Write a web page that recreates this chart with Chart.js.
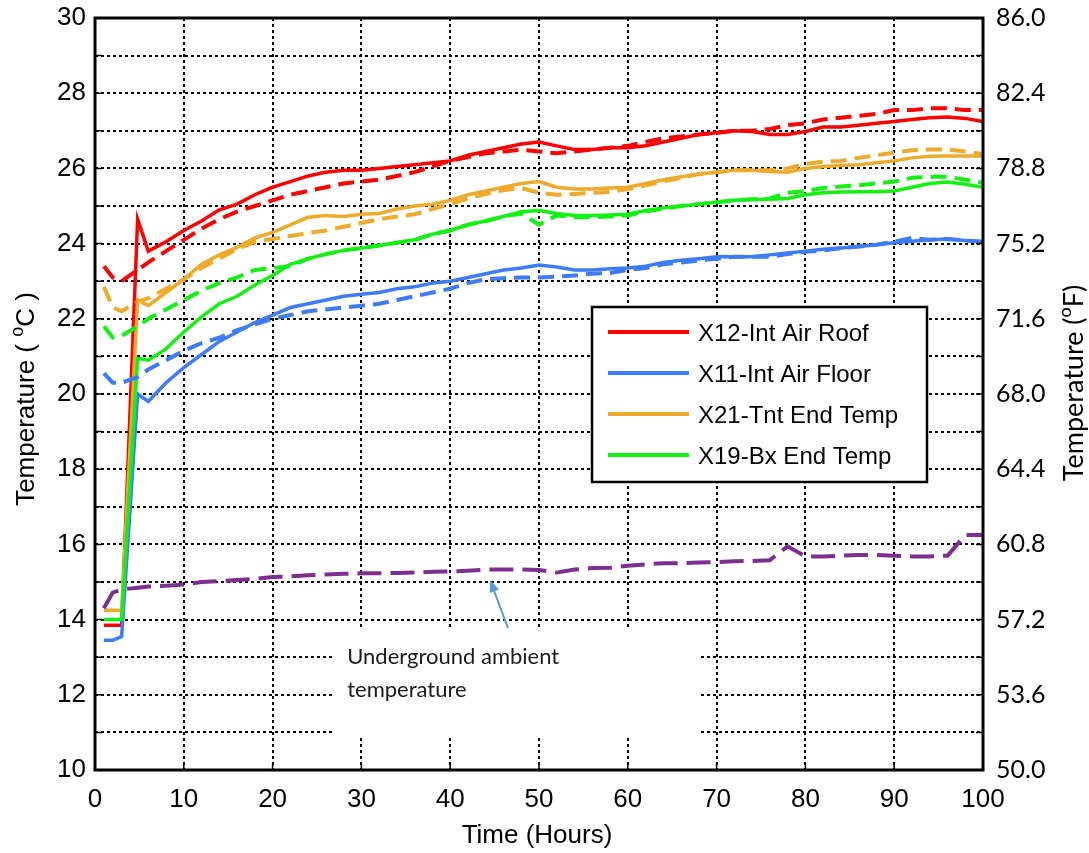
<!DOCTYPE html>
<html>
<head>
<meta charset="utf-8">
<script src="https://cdn.jsdelivr.net/npm/chart.js@4.4.1/dist/chart.umd.min.js"></script>
<style>
  html, body { margin: 0; padding: 0; background: #fff; }
  #wrap { width: 1089px; height: 853px; }
</style>
</head>
<body>
<div id="wrap"><canvas id="temp-chart" width="1089" height="853"></canvas></div>
<script>
// time axis (hours)
const hours = [1, 2, 3, 4.8, 6, 8, 10, 12, 14, 16, 18, 20, 22, 24, 26, 28, 30, 32, 34, 36, 38, 40, 42, 44, 46, 48,
    50, 52, 54, 56, 58, 60, 62, 64, 66, 68, 70, 72, 74, 76, 78, 80, 82, 84, 86, 88, 90, 92, 94, 96, 98, 100];

const x12Roof = [13.85, 13.85, 13.85, 24.65, 23.8, 24.05, 24.35, 24.6, 24.9, 25.05, 25.3, 25.5, 25.65, 25.8, 25.9, 25.95,
    25.95, 26.0, 26.05, 26.1, 26.15, 26.2, 26.35, 26.45, 26.55, 26.65, 26.7, 26.6, 26.5, 26.5, 26.55, 26.55, 26.6, 26.7,
    26.8, 26.9, 26.95, 27.0, 26.98, 26.9, 26.9, 26.98, 27.1, 27.1, 27.15, 27.2, 27.25, 27.3, 27.35, 27.37, 27.33, 27.25];
const x12RoofB = [23.4, 23.1, 23.0, 23.3, 23.5, 23.8, 24.1, 24.4, 24.65, 24.85, 25.0, 25.15, 25.3, 25.4, 25.5, 25.6,
    25.65, 25.7, 25.8, 25.9, 26.05, 26.2, 26.3, 26.4, 26.45, 26.5, 26.45, 26.4, 26.45, 26.5, 26.55, 26.6, 26.7, 26.8,
    26.85, 26.9, 26.95, 27.0, 27.0, 27.05, 27.15, 27.2, 27.3, 27.35, 27.4, 27.45, 27.55, 27.55, 27.6, 27.6, 27.55, 27.55];

const x11Floor = [13.45, 13.45, 13.55, 20.0, 19.8, 20.3, 20.7, 21.05, 21.4, 21.65, 21.9, 22.1, 22.3, 22.4, 22.5, 22.6,
    22.65, 22.7, 22.8, 22.85, 22.95, 23.0, 23.1, 23.2, 23.3, 23.35, 23.43, 23.38, 23.3, 23.3, 23.33, 23.35, 23.4, 23.5,
    23.56, 23.6, 23.65, 23.65, 23.65, 23.7, 23.75, 23.8, 23.85, 23.88, 23.92, 23.97, 24.02, 24.06, 24.1, 24.12, 24.08, 24.05];
const x11FloorB = [20.55, 20.3, 20.3, 20.45, 20.65, 20.9, 21.15, 21.35, 21.5, 21.7, 21.85, 22.0, 22.1, 22.2, 22.25, 22.3,
    22.35, 22.4, 22.5, 22.6, 22.7, 22.8, 22.95, 23.05, 23.08, 23.1, 23.1, 23.12, 23.15, 23.2, 23.22, 23.3, 23.35, 23.45,
    23.5, 23.55, 23.6, 23.65, 23.65, 23.65, 23.72, 23.78, 23.82, 23.88, 23.92, 23.97, 24.05, 24.15, 24.1, 24.12, 24.08, 24.05];

const x21Tnt = [14.25, 14.25, 14.25, 22.5, 22.35, 22.7, 23.05, 23.45, 23.7, 23.9, 24.15, 24.3, 24.5, 24.7, 24.75, 24.72,
    24.78, 24.8, 24.92, 25.0, 25.05, 25.15, 25.3, 25.4, 25.5, 25.6, 25.65, 25.5, 25.45, 25.45, 25.48, 25.5, 25.6, 25.7,
    25.78, 25.85, 25.9, 25.95, 25.95, 25.92, 25.9, 26.0, 26.05, 26.08, 26.1, 26.15, 26.2, 26.28, 26.32, 26.33, 26.33, 26.33];
const x21TntB = [22.85, 22.3, 22.2, 22.45, 22.55, 22.8, 23.05, 23.35, 23.6, 23.85, 24.05, 24.12, 24.2, 24.28, 24.35, 24.45,
    24.55, 24.65, 24.72, 24.78, 24.92, 25.05, 25.2, 25.32, 25.42, 25.48, 25.35, 25.3, 25.32, 25.35, 25.37, 25.45, 25.55, 25.65,
    25.75, 25.85, 25.9, 25.95, 25.95, 25.95, 26.0, 26.12, 26.18, 26.2, 26.28, 26.35, 26.42, 26.48, 26.5, 26.5, 26.45, 26.38];

const x19Bx = [14.0, 14.0, 14.0, 20.95, 20.9, 21.2, 21.65, 22.05, 22.4, 22.6, 22.9, 23.15, 23.45, 23.6, 23.72, 23.82,
    23.88, 23.95, 24.02, 24.1, 24.25, 24.35, 24.5, 24.6, 24.72, 24.85, 24.88, 24.8, 24.75, 24.75, 24.76, 24.78, 24.88, 24.95,
    25.0, 25.05, 25.1, 25.15, 25.17, 25.18, 25.2, 25.3, 25.35, 25.37, 25.38, 25.38, 25.4, 25.5, 25.6, 25.64, 25.58, 25.5];
const x19BxB = [21.8, 21.5, 21.55, 21.8, 22.0, 22.25, 22.5, 22.75, 22.95, 23.1, 23.3, 23.35, 23.4, 23.6, 23.72, 23.82,
    23.88, 23.95, 24.02, 24.1, 24.25, 24.35, 24.5, 24.6, 24.72, 24.8, 24.5, 24.75, 24.7, 24.7, 24.72, 24.75, 24.85, 24.93,
    25.0, 25.05, 25.1, 25.15, 25.18, 25.2, 25.35, 25.4, 25.48, 25.52, 25.55, 25.6, 25.65, 25.75, 25.78, 25.78, 25.7, 25.62];

const ambient = [14.3, 14.72, 14.8, 14.85, 14.88, 14.9, 14.93, 15.0, 15.02, 15.05, 15.08, 15.13, 15.15, 15.18, 15.2, 15.22,
    15.23, 15.23, 15.24, 15.25, 15.27, 15.28, 15.3, 15.33, 15.33, 15.33, 15.32, 15.25, 15.33, 15.37, 15.38, 15.43, 15.47, 15.5,
    15.5, 15.52, 15.53, 15.55, 15.56, 15.58, 15.95, 15.68, 15.68, 15.7, 15.72, 15.72, 15.7, 15.68, 15.68, 15.7, 16.25, 16.25];

const legendLabels = ['X12-Int Air Roof', 'X11-Int Air Floor', 'X21-Tnt End Temp', 'X19-Bx End Temp'];
const fTicks = [50.0, 53.6, 57.2, 60.8, 64.4, 68.0, 71.6, 75.2, 78.8, 82.4, 86.0];

const RED = '#FF0000', BLUE = '#3D7BF7', ORANGE = '#EDAA2B', GREEN = '#14F014', PURPLE = '#7D2E8F';

function pts(vals) {
    return hours.map((h, i) => ({x: h, y: vals[i]}));
}
function solid(label, vals, color) {
    return {label: label, data: pts(vals), borderColor: color, borderWidth: 3.5, pointRadius: 0, tension: 0, fill: false};
}
function dashed(label, vals, color, dash) {
    return {label: label, data: pts(vals), borderColor: color, borderWidth: 4, borderDash: dash || [16, 8],
        pointRadius: 0, tension: 0, fill: false};
}

const datasets = [
    dashed('ambient', ambient, PURPLE, [24, 9]),
    dashed('x19b', x19BxB, GREEN),
    dashed('x21b', x21TntB, ORANGE),
    dashed('x11b', x11FloorB, BLUE),
    dashed('x12b', x12RoofB, RED),
    solid(legendLabels[3], x19Bx, GREEN),
    solid(legendLabels[2], x21Tnt, ORANGE),
    solid(legendLabels[1], x11Floor, BLUE),
    solid(legendLabels[0], x12Roof, RED)
];
const legendColors = [RED, BLUE, ORANGE, GREEN];

const ARIAL = "'Liberation Sans', Arial, sans-serif";
const CALIBRI = "Lato, 'Open Sans', sans-serif";

// white box behind the note, grid hidden there
const noteBox = {x1: 26.7, x2: 68.1, y1: 13.78, y2: 10.85};

const decor = {
    id: 'decor',
    beforeDatasetsDraw(chart) {
        const ctx = chart.ctx, xs = chart.scales.x, ys = chart.scales.y;
        ctx.save();
        ctx.fillStyle = '#fff';
        const l = xs.getPixelForValue(noteBox.x1), r = xs.getPixelForValue(noteBox.x2);
        const t = ys.getPixelForValue(noteBox.y1), b = ys.getPixelForValue(noteBox.y2);
        ctx.fillRect(l, t, r - l, b - t);
        ctx.restore();
    },
    afterDraw(chart) {
        const ctx = chart.ctx, a = chart.chartArea, xs = chart.scales.x, ys = chart.scales.y;
        ctx.save();

        // note + arrow
        ctx.fillStyle = '#1a1a1a';
        ctx.font = '22px ' + CALIBRI;
        ctx.textAlign = 'left';
        ctx.textBaseline = 'alphabetic';
        ctx.fillText('Underground ambient', xs.getPixelForValue(28.4), ys.getPixelForValue(12.83));
        ctx.fillText('temperature', xs.getPixelForValue(28.4), ys.getPixelForValue(11.95));

        const ax1 = xs.getPixelForValue(46.5), ay1 = ys.getPixelForValue(13.78);
        const ax2 = xs.getPixelForValue(44.5), ay2 = ys.getPixelForValue(15.05);
        const ang = Math.atan2(ay2 - ay1, ax2 - ax1);
        ctx.strokeStyle = '#5B9BD5';
        ctx.fillStyle = '#5B9BD5';
        ctx.lineWidth = 2;
        ctx.beginPath();
        ctx.moveTo(ax1, ay1);
        ctx.lineTo(ax2 - 8 * Math.cos(ang), ay2 - 8 * Math.sin(ang));
        ctx.stroke();
        ctx.beginPath();
        ctx.moveTo(ax2, ay2);
        ctx.lineTo(ax2 - 12 * Math.cos(ang) + 5 * Math.sin(ang), ay2 - 12 * Math.sin(ang) - 5 * Math.cos(ang));
        ctx.lineTo(ax2 - 12 * Math.cos(ang) - 5 * Math.sin(ang), ay2 - 12 * Math.sin(ang) + 5 * Math.cos(ang));
        ctx.closePath();
        ctx.fill();

        // frame and inner ticks
        ctx.strokeStyle = '#000';
        ctx.lineWidth = 1.5;
        for (let v = 10; v <= 30; v++) {
            const y = ys.getPixelForValue(v);
            ctx.beginPath();
            ctx.moveTo(a.left, y); ctx.lineTo(a.left + 7, y);
            ctx.moveTo(a.right, y); ctx.lineTo(a.right - 7, y);
            ctx.stroke();
        }
        for (let v = 0; v <= 100; v += 10) {
            const x = xs.getPixelForValue(v);
            ctx.beginPath();
            ctx.moveTo(x, a.bottom); ctx.lineTo(x, a.bottom - 7);
            ctx.stroke();
        }
        ctx.lineWidth = 3;
        ctx.strokeRect(a.left, a.top, a.right - a.left, a.bottom - a.top);

        // legend
        const lx = 592, ly = 307, lw = 335, lh = 175;
        ctx.fillStyle = '#fff';
        ctx.fillRect(lx, ly, lw, lh);
        ctx.lineWidth = 2.5;
        ctx.strokeRect(lx, ly, lw, lh);
        ctx.font = '24px ' + ARIAL;
        ctx.textBaseline = 'middle';
        legendLabels.forEach((lab, i) => {
            const y = 332 + i * 41;
            ctx.strokeStyle = legendColors[i];
            ctx.lineWidth = 4;
            ctx.beginPath();
            ctx.moveTo(608, y); ctx.lineTo(689, y);
            ctx.stroke();
            ctx.fillStyle = '#000';
            ctx.fillText(lab, 698, y + 2);
        });

        // axis titles
        ctx.fillStyle = '#000';
        ctx.textAlign = 'center';
        ctx.textBaseline = 'middle';
        ctx.font = '26px ' + ARIAL;
        ctx.fillText('Time (Hours)', 537, 836);

        const supTitle = (pre, post, font, smallFont, cx, cy) => {
            ctx.save();
            ctx.translate(cx, cy);
            ctx.rotate(-Math.PI / 2);
            ctx.textAlign = 'left';
            ctx.font = font;
            const w1 = ctx.measureText(pre).width, w3 = ctx.measureText(post).width;
            ctx.font = smallFont;
            const w2 = ctx.measureText('o').width;
            const x0 = -(w1 + w2 + w3) / 2;
            ctx.font = font;
            ctx.fillText(pre, x0, 0);
            ctx.font = smallFont;
            ctx.fillText('o', x0 + w1, -9);
            ctx.font = font;
            ctx.fillText(post, x0 + w1 + w2, 0);
            ctx.restore();
        };
        supTitle('Temperature ( ', 'C )', '26px ' + ARIAL, '18px ' + ARIAL, 27, 399);
        supTitle('Temperature (', 'F)', '27px ' + CALIBRI, '18px ' + CALIBRI, 1074, 383);

        ctx.restore();
    }
};

const gridStyle = {color: '#000', lineWidth: 2, drawTicks: false};
const noBorder = {display: false, dash: [3, 3]};

function noPad(s) {
    s.paddingTop = 0;
    s.paddingBottom = 0;
}

let tempElement = document.getElementById('temp-chart').getContext('2d');
let tempChart = new Chart(tempElement, {
    type: 'line',
    data: {datasets: datasets},
    options: {
        animation: false,
        responsive: false,
        layout: {padding: {top: 18, left: 0, right: 0, bottom: 0}},
        plugins: {legend: {display: false}, tooltip: {enabled: false}},
        scales: {
            x: {
                type: 'linear', min: 0, max: 100,
                grid: gridStyle, border: noBorder,
                ticks: {stepSize: 10, color: '#000', padding: 14, font: {family: ARIAL, size: 26}},
                afterFit: s => { s.height = 83; }
            },
            y: {
                position: 'left', min: 10, max: 30,
                grid: gridStyle, border: noBorder,
                ticks: {stepSize: 1, color: '#000', padding: 9, font: {family: ARIAL, size: 26},
                    callback: v => (v % 2 === 0 ? v : '')},
                afterFit: s => { s.width = 95; noPad(s); }
            },
            y2: {
                position: 'right', min: 50, max: 86,
                grid: {drawOnChartArea: false, drawTicks: false}, border: {display: false},
                ticks: {color: '#000', padding: 13, font: {family: CALIBRI, size: 25},
                    callback: v => Number(v).toFixed(1)},
                afterBuildTicks: s => { s.ticks = fTicks.map(v => ({value: v})); },
                afterFit: s => { s.width = 106; noPad(s); }
            }
        }
    },
    plugins: [decor]
});
</script>
</body>
</html>
